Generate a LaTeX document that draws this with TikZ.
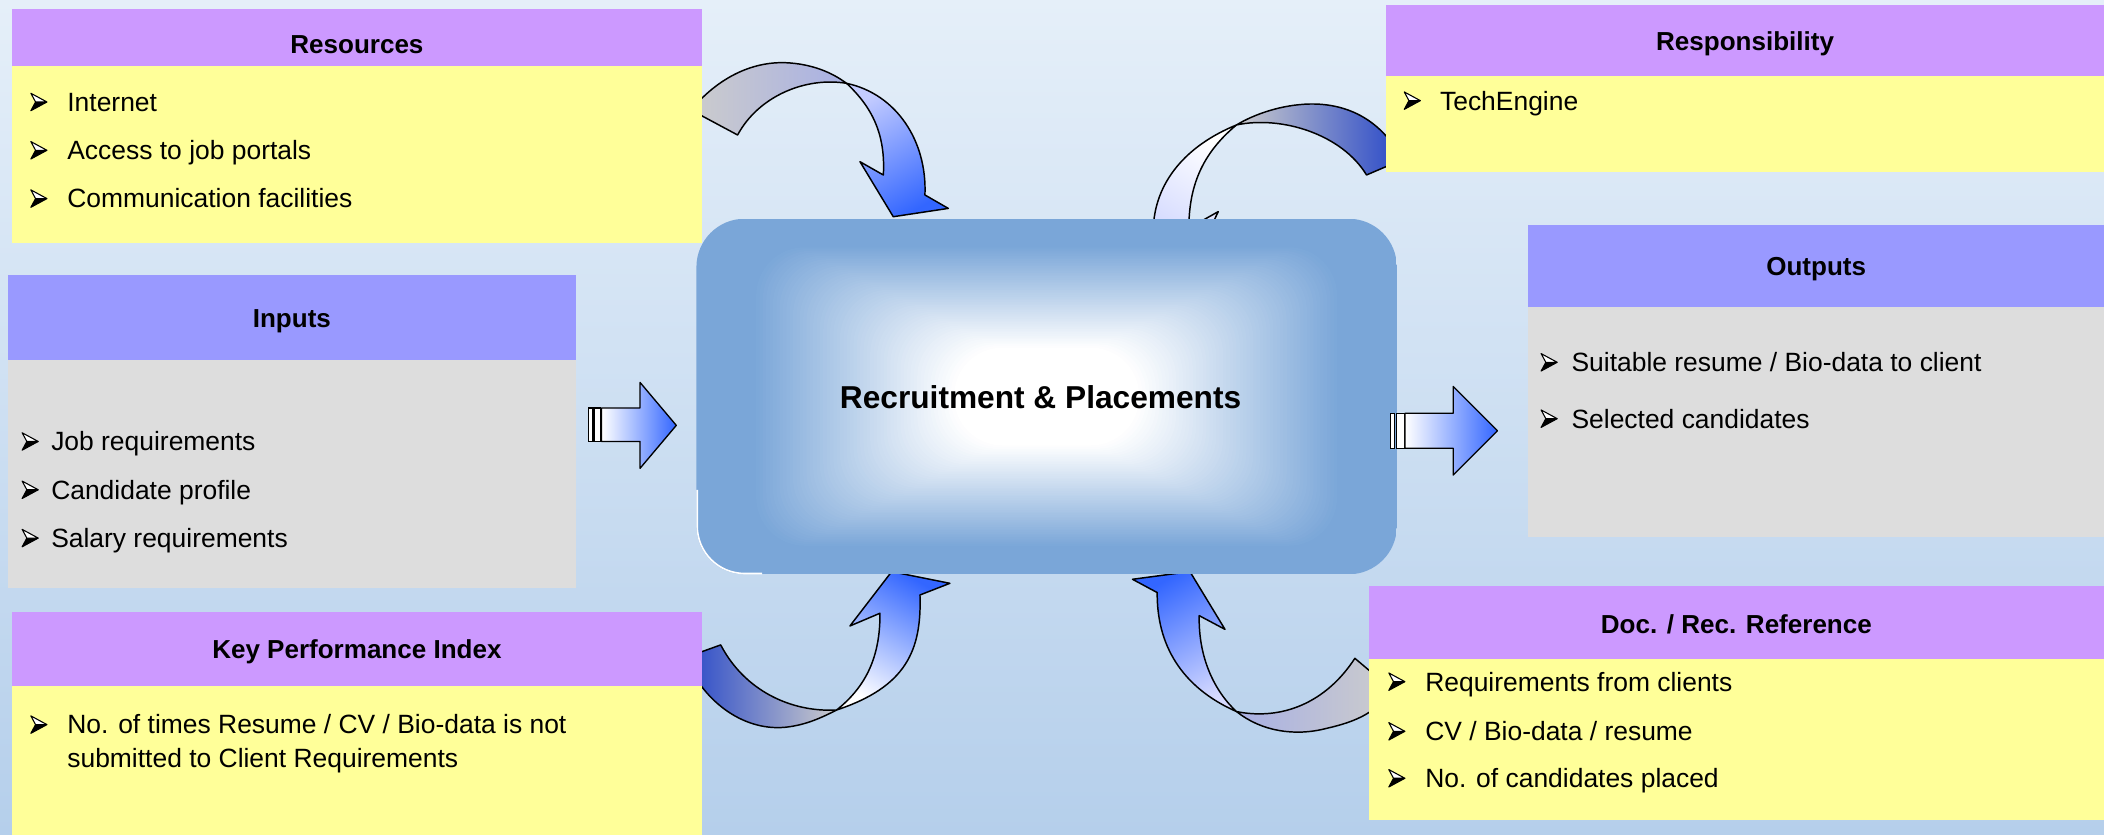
\documentclass[tikz,border=0pt]{standalone}
\usepackage{fontspec}
\setmainfont{Liberation Sans}
\definecolor{bgtop}{RGB}{229,239,249}
\definecolor{bgbot}{RGB}{181,207,235}
\definecolor{hpurple}{RGB}{204,153,255}
\definecolor{hblue}{RGB}{153,153,255}
\definecolor{byellow}{RGB}{255,255,153}
\definecolor{bgray}{RGB}{221,221,221}
\definecolor{cblue}{RGB}{122,166,216}
\definecolor{ablue}{RGB}{51,102,255}
\definecolor{alight}{RGB}{196,204,255}
\definecolor{apale}{RGB}{214,218,255}
\definecolor{agray}{RGB}{204,204,204}
\definecolor{adark}{RGB}{40,72,200}
\definecolor{alav}{RGB}{168,176,228}
\begin{document}
\begin{tikzpicture}[x=1pt,y=-1pt,
  arr/.style={draw=black, line width=1.1pt, line join=round},
  bar/.style={draw=black, fill=white, line width=0.9pt},
  ttl/.style={anchor=base, inner sep=0pt, font=\bfseries\fontsize{19.4}{23}\selectfont},
  item/.style={anchor=base west, inner sep=0pt, font=\fontsize{19.7}{23}\selectfont},
  bul/.pic={
    \fill[black] (6,0) -- (-2.5,0) -- (-6,6.5) -- cycle;
    \filldraw[fill=white, draw=black, line width=0.8pt, line join=round] (6,0) -- (-6,-6.5) -- (-2.5,0) -- cycle;
    \draw[black, line width=0.8pt, line join=round] (6,0) -- (-6,6.5) -- (-2.5,0);
  }]
\useasboundingbox (0,0) rectangle (1568,622);
\shade[top color=bgtop, bottom color=bgbot] (0,0) rectangle (1568,622);

% ---------- curved arrow A (Resources -> centre) ----------
\path[arr, left color=agray, right color=alav] (549.7,100.6) -- (515,82) .. controls (535,58) and (560,46) .. (585,46.7) .. controls (605,47.5) and (620,54) .. (630.9,62.1) .. controls (600,57) and (565,72) .. (549.7,100.6) -- cycle;
\path[arr, top color=alight, bottom color=ablue, shading angle=30] (630.9,62.1) .. controls (668,70) and (691,105) .. (689.3,145.3) -- (706.7,155.3) -- (665.7,161.5) -- (640.9,120.5) -- (658.3,130.4) .. controls (660,100) and (650,80) .. (630.9,62.1) -- cycle;

% ---------- curved arrow B (Responsibility -> centre) ----------
\path[arr, left color=agray, right color=adark] (1018.4,130.4) -- (1045,119) .. controls (1030,90) and (1005,77) .. (976.2,77.5) .. controls (955,78) and (935,85) .. (921.5,93.1) .. controls (955,86) and (1000,100) .. (1018.4,130.4) -- cycle;
\path[arr, top color=white, bottom color=alight, shading angle=-30] (921.5,93.1) .. controls (885,108) and (860,135) .. (859.4,172) -- (843,185) -- (882,212) -- (907.9,157.7) -- (886,170) .. controls (886,140) and (895,115) .. (921.5,93.1) -- cycle;

% ---------- curved arrow C (KPI -> centre) ----------
\path[arr, left color=adark, right color=agray] (537.1,480.6) -- (511,490) .. controls (522,520) and (552,545) .. (585,542) .. controls (600,540.5) and (612,535) .. (623.5,529.1) .. controls (590,531) and (555,515) .. (537.1,480.6) -- cycle;
\path[arr, top color=ablue, bottom color=white, shading angle=-30] (623.5,529.1) .. controls (675,512) and (687,485) .. (685.6,443.4) -- (707.9,434.7) -- (664.5,426.0) -- (633.4,466.5) -- (655.8,457.0) .. controls (656,490) and (645,512) .. (623.5,529.1) -- cycle;

% ---------- curved arrow D (Doc./Rec. -> centre) ----------
\path[arr, left color=alav, right color=agray] (1009.7,490.6) -- (1035,512) .. controls (1030,530) and (1010,538) .. (988.6,542.8) .. controls (965,549) and (940,545) .. (921.5,530.3) .. controls (955,537) and (988,524) .. (1009.7,490.6) -- cycle;
\path[arr, top color=ablue, bottom color=apale, shading angle=30] (921.5,530.3) .. controls (880,512) and (862,480) .. (862.4,441.6) -- (844,431.7) -- (886.8,426) -- (912.9,469) -- (893.7,458.8) .. controls (893,490) and (905,515) .. (921.5,530.3) -- cycle;

% ---------- centre rounded rectangle ----------
\begin{scope}
  \clip[rounded corners=36] (519,163) rectangle (1041,428);
  \fill[cblue] (519,163) rectangle (1041,428);
  \foreach \i in {1,...,60}{
    \pgfmathsetmacro\dx{42+\i*150/60}
    \pgfmathsetmacro\dy{20+\i*76/60}
    \pgfmathsetmacro\cc{100-\i*100/60}
    \fill[cblue!\cc!white, rounded corners=36] ({519+\dx},{163+\dy}) rectangle ({1041-\dx},{428-\dy});
  }
  \draw[white, line width=2.4pt, rounded corners=36] (519,365) -- (519,428) -- (568,428);
\end{scope}
\node[anchor=base, inner sep=0pt, font=\bfseries\fontsize{23.6}{28}\selectfont] (ctr) at (775.5,304.5) {Recruitment \& Placements};

% ---------- straight block arrows ----------
\draw[bar] (438.4,304) rectangle (441.7,329);
\draw[bar] (442.7,304) rectangle (447.6,329);
\path[arr, line width=1pt, left color=white, right color=ablue] (448.3,304) -- (477,304) -- (477,285) -- (504,317) -- (477,349) -- (477,329) -- (448.3,329) -- cycle;
\draw[bar] (1036.3,308) rectangle (1039.5,334);
\draw[bar] (1041,308) rectangle (1047,334);
\path[arr, line width=1pt, left color=white, right color=ablue] (1047,308) -- (1083,308) -- (1083,288) -- (1116,321) -- (1083,354) -- (1083,334) -- (1047,334) -- cycle;

% ---------- Resources ----------
\fill[hpurple] (9,7) rectangle (523,49);
\fill[byellow] (9,49) rectangle (523,181);
\node[ttl] (resT) at (266,40) {Resources};
\pic at (29,76) {bul}; \node[item] (res1) at (50,83) {Internet};
\pic at (29,112) {bul}; \node[item] (res2) at (50,119) {Access to job portals};
\pic at (29,148) {bul}; \node[item] (res3) at (50,155) {Communication facilities};

% ---------- Inputs ----------
\fill[hblue] (6,205) rectangle (429,268);
\fill[bgray] (6,268) rectangle (429,438);
\node[ttl] (inT) at (217.5,244) {Inputs};
\pic at (22.5,329) {bul}; \node[item] (in1) at (38,336) {Job requirements};
\pic at (22.5,365) {bul}; \node[item] (in2) at (38,372) {Candidate profile};
\pic at (22.5,401) {bul}; \node[item] (in3) at (38,408) {Salary requirements};

% ---------- Key Performance Index ----------
\fill[hpurple] (9,456) rectangle (523,511);
\fill[byellow] (9,511) rectangle (523,622);
\node[ttl] (kpiT) at (266,491) {Key Performance Index};
\pic at (29,540) {bul}; \node[item] (kpi1) at (50,547) {No. of times Resume / CV / Bio-data is not};
\node[item] (kpi2) at (50,572) {submitted to Client Requirements};

% ---------- Responsibility ----------
\fill[hpurple] (1033,4) rectangle (1568,57);
\fill[byellow] (1033,57) rectangle (1568,128);
\node[ttl] (respT) at (1300.5,38) {Responsibility};
\pic at (1052.5,75) {bul}; \node[item] (resp1) at (1073,82) {TechEngine};

% ---------- Outputs ----------
\fill[hblue] (1139,168) rectangle (1568,229);
\fill[bgray] (1139,229) rectangle (1568,400);
\node[ttl] (outT) at (1353.5,205) {Outputs};
\pic at (1154.5,270) {bul}; \node[item] (out1) at (1171,277) {Suitable resume / Bio-data to client};
\pic at (1154.5,312) {bul}; \node[item] (out2) at (1171,319) {Selected candidates};

% ---------- Doc. / Rec. Reference ----------
\fill[hpurple] (1020,437) rectangle (1568,491);
\fill[byellow] (1020,491) rectangle (1568,611);
\node[ttl] (docT) at (1294,472) {Doc. / Rec. Reference};
\pic at (1041,508) {bul}; \node[item] (doc1) at (1062,515) {Requirements from clients};
\pic at (1041,545) {bul}; \node[item] (doc2) at (1062,552) {CV / Bio-data / resume};
\pic at (1041,580) {bul}; \node[item] (doc3) at (1062,587) {No. of candidates placed};
\end{tikzpicture}
\end{document}
